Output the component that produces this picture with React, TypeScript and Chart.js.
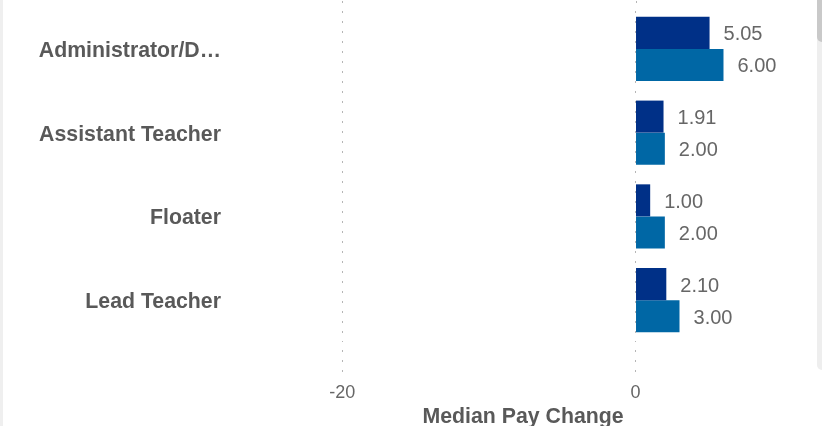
import React, { useEffect, useRef } from "react";
import { Chart, registerables } from "chart.js";

Chart.register(...registerables);

const categories = ["Administrator/D…", "Assistant Teacher", "Floater", "Lead Teacher"];
const seriesNames = ["Median Pay Change (A)", "Median Pay Change (B)"];
const seriesA = [5.05, 1.91, 1.0, 2.1];
const seriesB = [6.0, 2.0, 2.0, 3.0];
const seriesColors = ["#003087", "#0067a5"];
const axisTitle = "Median Pay Change";
const xMin = -27.66;
const xMax = 12.31;
const xTickValues = [-20, 0];

const FONT = "'Liberation Sans', Arial, Helvetica, sans-serif";
const GRID_COLOR = "#b5b5b5";
const DASH = [2, 8];

const valueLabels = {
  id: "valueLabels",
  afterDatasetsDraw(chart: any) {
    const ctx = chart.ctx;
    ctx.save();
    ctx.font = `20px ${FONT}`;
    ctx.fillStyle = "#666666";
    ctx.textAlign = "left";
    ctx.textBaseline = "middle";
    chart.data.datasets.forEach((ds: any, i: number) => {
      const meta = chart.getDatasetMeta(i);
      meta.data.forEach((el: any, j: number) => {
        const v = ds.data[j] as number;
        ctx.fillText(v.toFixed(2), el.x + 14, el.y + 2);
      });
    });
    ctx.restore();
  },
};

// extend the dotted x grid lines up to the top edge of the canvas
const gridTopExtension = {
  id: "gridTopExtension",
  beforeDatasetsDraw(chart: any) {
    const ctx = chart.ctx;
    const xs = chart.scales.x;
    const top = chart.chartArea.top;
    ctx.save();
    ctx.strokeStyle = GRID_COLOR;
    ctx.lineWidth = 1;
    ctx.setLineDash(DASH);
    xs.ticks.forEach((t: any) => {
      const px = Math.round(xs.getPixelForValue(t.value)) + 0.5;
      ctx.beginPath();
      ctx.moveTo(px, 1);
      ctx.lineTo(px, top);
      ctx.stroke();
    });
    ctx.restore();
  },
};

export default function App() {
  const ref = useRef<HTMLCanvasElement | null>(null);

  useEffect(() => {
    if (!ref.current) return;
    const chart = new Chart(ref.current, {
      type: "bar",
      data: {
        labels: categories,
        datasets: [
          {
            label: seriesNames[0],
            data: seriesA,
            backgroundColor: seriesColors[0],
            categoryPercentage: 0.765,
            barPercentage: 1,
          },
          {
            label: seriesNames[1],
            data: seriesB,
            backgroundColor: seriesColors[1],
            categoryPercentage: 0.765,
            barPercentage: 1,
          },
        ],
      },
      options: {
        indexAxis: "y",
        animation: false,
        responsive: false,
        devicePixelRatio: 1,
        layout: { padding: { top: 7, right: 6, left: 0, bottom: 0 } },
        plugins: {
          legend: { display: false },
          tooltip: { enabled: false },
        },
        scales: {
          x: {
            type: "linear",
            min: xMin,
            max: xMax,
            afterBuildTicks: (s: any) => {
              s.ticks = xTickValues.map((v) => ({ value: v }));
            },
            afterFit: (s: any) => {
              s.height = 84;
              s.paddingLeft = 0;
              s.paddingRight = 0;
            },
            ticks: {
              color: "#666666",
              font: { family: FONT, size: 18 },
              padding: 10,
            },
            grid: {
              color: GRID_COLOR,
              lineWidth: 1,
              tickLength: 30,
              tickColor: GRID_COLOR,
              tickBorderDash: DASH,
              tickBorderDashOffset: 2,
            },
            border: { display: false, dash: DASH, dashOffset: 6 },
            title: {
              display: true,
              text: axisTitle,
              color: "#595959",
              font: { family: FONT, size: 21.3, weight: "bold" },
              padding: { top: 0, bottom: -4 },
            },
          },
          y: {
            type: "category",
            afterFit: (s: any) => {
              s.width = 230;
              s.paddingTop = 0;
              s.paddingBottom = 0;
            },
            grid: { display: false, drawTicks: false },
            border: { display: false },
            ticks: {
              color: "#595959",
              font: { family: FONT, size: 21.3, weight: "bold" },
              padding: 9,
              labelOffset: 2,
            },
          },
        },
      } as any,
      plugins: [valueLabels, gridTopExtension],
    });
    return () => chart.destroy();
  }, []);

  return (
    <div
      style={{
        position: "fixed",
        left: 0,
        top: 0,
        width: 822,
        height: 426,
        overflow: "hidden",
        background: "#ffffff",
      }}
    >
      <canvas ref={ref} width={822} height={426} style={{ display: "block" }} />
      <div style={{ position: "absolute", left: 0, top: 0, width: 3, height: 426, background: "#efefef" }} />
      <div
        style={{
          position: "absolute",
          left: 817,
          top: 0,
          width: 5,
          height: 370,
          background: "#eeeeee",
          borderBottomLeftRadius: 5,
        }}
      />
      <div
        style={{
          position: "absolute",
          left: 817,
          top: 0,
          width: 5,
          height: 42,
          background: "#c9c9c9",
          borderBottomLeftRadius: 5,
        }}
      />
    </div>
  );
}
